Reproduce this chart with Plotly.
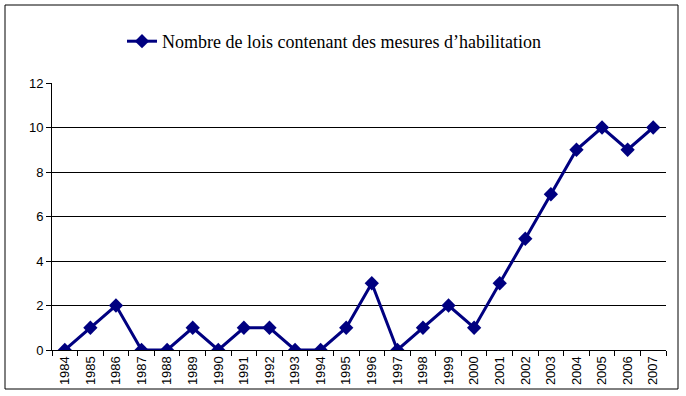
import plotly.graph_objects as go

years = [str(y) for y in range(1984, 2008)]
values = [0, 1, 2, 0, 0, 1, 0, 1, 1, 0, 0, 1, 3, 0, 1, 2, 1, 3, 5, 7, 9, 10, 9, 10]
series_name = "Nombre de lois contenant des mesures d\u2019habilitation"
y_ticks = [0, 2, 4, 6, 8, 10, 12]

W, H = 686, 396
L, R, T, B = 52, 20, 83, 46
pw, ph = W - L - R, H - T - B

fig = go.Figure()
fig.add_trace(go.Scatter(
    x=years, y=values, mode="lines+markers", name=series_name,
    line=dict(color="#000080", width=3),
    marker=dict(symbol="diamond", size=11, color="#000080"),
))

fig.update_layout(
    width=W, height=H,
    margin=dict(l=L, r=R, t=T, b=B, autoexpand=False),
    paper_bgcolor="white", plot_bgcolor="white",
    showlegend=True,
    legend=dict(
        x=(122 - L) / pw, y=(350 - 23) / ph, xanchor="left", yanchor="top",
        font=dict(family="Liberation Serif", size=18, color="black"),
        bgcolor="rgba(0,0,0,0)",
    ),
    font=dict(family="Liberation Sans", size=12, color="black"),
    xaxis=dict(
        type="category", tickangle=-90, showgrid=False, automargin=False,
        showline=True, linecolor="black", linewidth=1,
        ticks="outside", ticklen=5, tickcolor="black", tickson="boundaries",
        range=[-0.5, len(years) - 0.5],
        tickfont=dict(family="Liberation Sans", size=13),
    ),
    yaxis=dict(
        range=[0, 12], tickvals=y_ticks, showgrid=True, gridcolor="black", gridwidth=1,
        showline=True, linecolor="black", linewidth=1, automargin=False,
        ticks="outside", ticklen=5, tickcolor="black",
        zeroline=False,
        tickfont=dict(family="Liberation Sans", size=13),
    ),
    shapes=[dict(
        type="rect", xref="paper", yref="paper",
        x0=(5 - L) / pw, x1=(678 - L) / pw,
        y0=(H - B - 389) / ph, y1=(H - B - 5) / ph,
        line=dict(color="black", width=1), fillcolor="rgba(0,0,0,0)", layer="below",
    )],
)

fig.write_html("out.html", config={"displayModeBar": False},
               post_script="document.body.style.margin='0';document.body.style.overflow='hidden';")
